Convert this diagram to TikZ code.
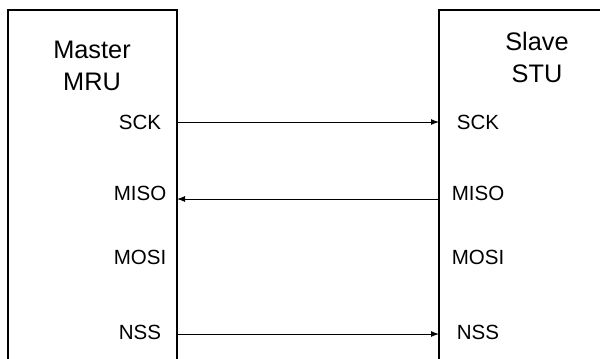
\documentclass[tikz,border=0pt]{standalone}
\usepackage{fontspec}
\setmainfont{Liberation Sans}
\usetikzlibrary{arrows.meta}
\begin{document}
\begin{tikzpicture}[x=0.75pt,y=-0.75pt,
  boxline/.style={line width=1pt,black},
  sig/.style={line width=0.75pt,black,-{Latex[length=6pt,width=4.5pt]}},
  title/.style={font=\fontsize{19}{24}\selectfont,align=center,inner sep=0pt},
  port/.style={font=\fontsize{15.4}{18}\selectfont,inner sep=0pt,anchor=base}]
\useasboundingbox (0,0) rectangle (600,358);
% boxes (cropped by the frame)
\draw[boxline] (8,360) -- (8,10) -- (177,10) -- (177,360);
\draw[boxline] (439,360) -- (439,10) -- (601,10);
% titles
\node[title] (master) at (92,66) {Master\\MRU};
\node[title] (slave) at (537,57) {Slave\\STU};
% port labels
\node[port] (msck)  at (140,129) {SCK};
\node[port] (mmiso) at (140,200) {MISO};
\node[port] (mmosi) at (140,264) {MOSI};
\node[port] (mnss)  at (140,339) {NSS};
\node[port] (ssck)  at (478,129) {SCK};
\node[port] (smiso) at (478,200) {MISO};
\node[port] (smosi) at (478,264) {MOSI};
\node[port] (snss)  at (478,339) {NSS};
% connector end points on the box edges
\coordinate (lsck) at (177,122);
\coordinate (rsck) at (439,122);
\coordinate (lmiso) at (177,199);
\coordinate (rmiso) at (439,199);
\coordinate (lnss) at (177,334);
\coordinate (rnss) at (439,334);
% signals
\draw[sig] (lsck) -- (rsck);
\draw[sig] (rmiso) -- (lmiso);
\draw[sig] (lnss) -- (rnss);
\end{tikzpicture}
\end{document}
